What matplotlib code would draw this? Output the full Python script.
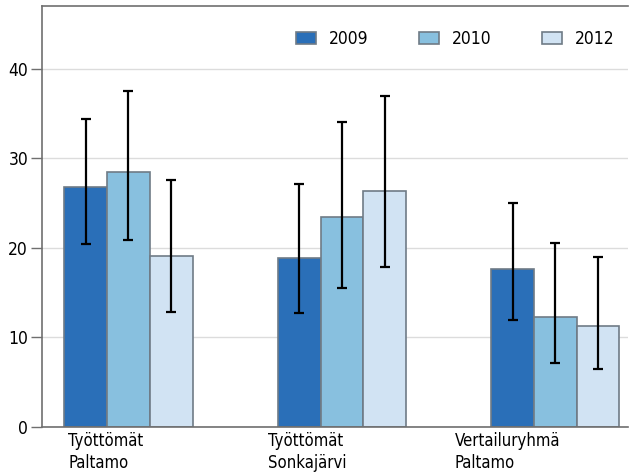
import matplotlib
matplotlib.use("Agg")
import matplotlib.pyplot as plt
import numpy as np

categories = ["Työttömät\nPaltamo", "Työttömät\nSonkajärvi", "Vertailuryhmä\nPaltamo"]
years = ["2009", "2010", "2012"]
values = {
    "2009": [26.8, 18.9, 17.6],
    "2010": [28.5, 23.5, 12.3],
    "2012": [19.1, 26.4, 11.3],
}
err_low = {
    "2009": [20.4, 12.7, 12.0],
    "2010": [20.9, 15.5, 7.1],
    "2012": [12.8, 17.9, 6.5],
}
err_high = {
    "2009": [34.4, 27.1, 25.0],
    "2010": [37.5, 34.1, 20.5],
    "2012": [27.6, 37.0, 19.0],
}
yticks = [0, 10, 20, 30, 40]
colors = {"2009": "#2a6fb8", "2010": "#88c0df", "2012": "#d1e3f3"}

plt.rcParams['font.family'] = ['DejaVu Sans']
plt.rcParams['font.stretch'] = 'condensed'

fig = plt.figure(figsize=(6.32, 4.74), dpi=100)
W, H = 632, 474
ax = fig.add_axes([42 / W, 1 - 427 / H, (628 - 42) / W, (427 - 6) / H])

x = np.arange(len(categories))
bw = 0.2
handles = []
for i, yr in enumerate(years):
    v = np.array(values[yr])
    lo = v - np.array(err_low[yr])
    hi = np.array(err_high[yr]) - v
    b = ax.bar(x + (i - 1) * bw, v, width=bw, color=colors[yr], edgecolor="#6f7b86",
               linewidth=1.2, label=yr, zorder=2)
    handles.append(b)
    ax.errorbar(x + (i - 1) * bw, v, yerr=[lo, hi], fmt="none", ecolor="black",
                elinewidth=1.6, capsize=3.5, capthick=1.6, zorder=3)

ax.set_xlim(-0.405, 2.34)
ax.set_ylim(0, 47)
ax.set_yticks(yticks)
ax.set_yticklabels([str(t) for t in yticks], fontsize=12.5)
ax.set_xticks([])
ax.grid(axis="y", color="#dcdcdc", linewidth=1.0, zorder=0)
ax.set_axisbelow(True)
for s in ["left", "top", "bottom"]:
    ax.spines[s].set_color("#6f6f6f")
    ax.spines[s].set_linewidth(1.2)
ax.spines["right"].set_visible(False)
ax.tick_params(axis="y", length=8, width=1.0, color="#6f6f6f", pad=2)

label_x = [68, 268, 455]
for lx, lab in zip(label_x, categories):
    fig.text(lx / W, 1 - 432 / H, lab, ha="left", va="top",
             fontsize=12, linespacing=1.25)

leg = ax.legend(handles=handles, labels=years, loc="center left",
                bbox_to_anchor=(296 / W, 1 - 39 / H),
                bbox_transform=fig.transFigure, ncol=3, frameon=False, fontsize=12.5,
                handlelength=1.15, handleheight=0.7, columnspacing=2.9,
                handletextpad=0.75, borderpad=0, borderaxespad=0)

fig.savefig("out.png", dpi=100)
